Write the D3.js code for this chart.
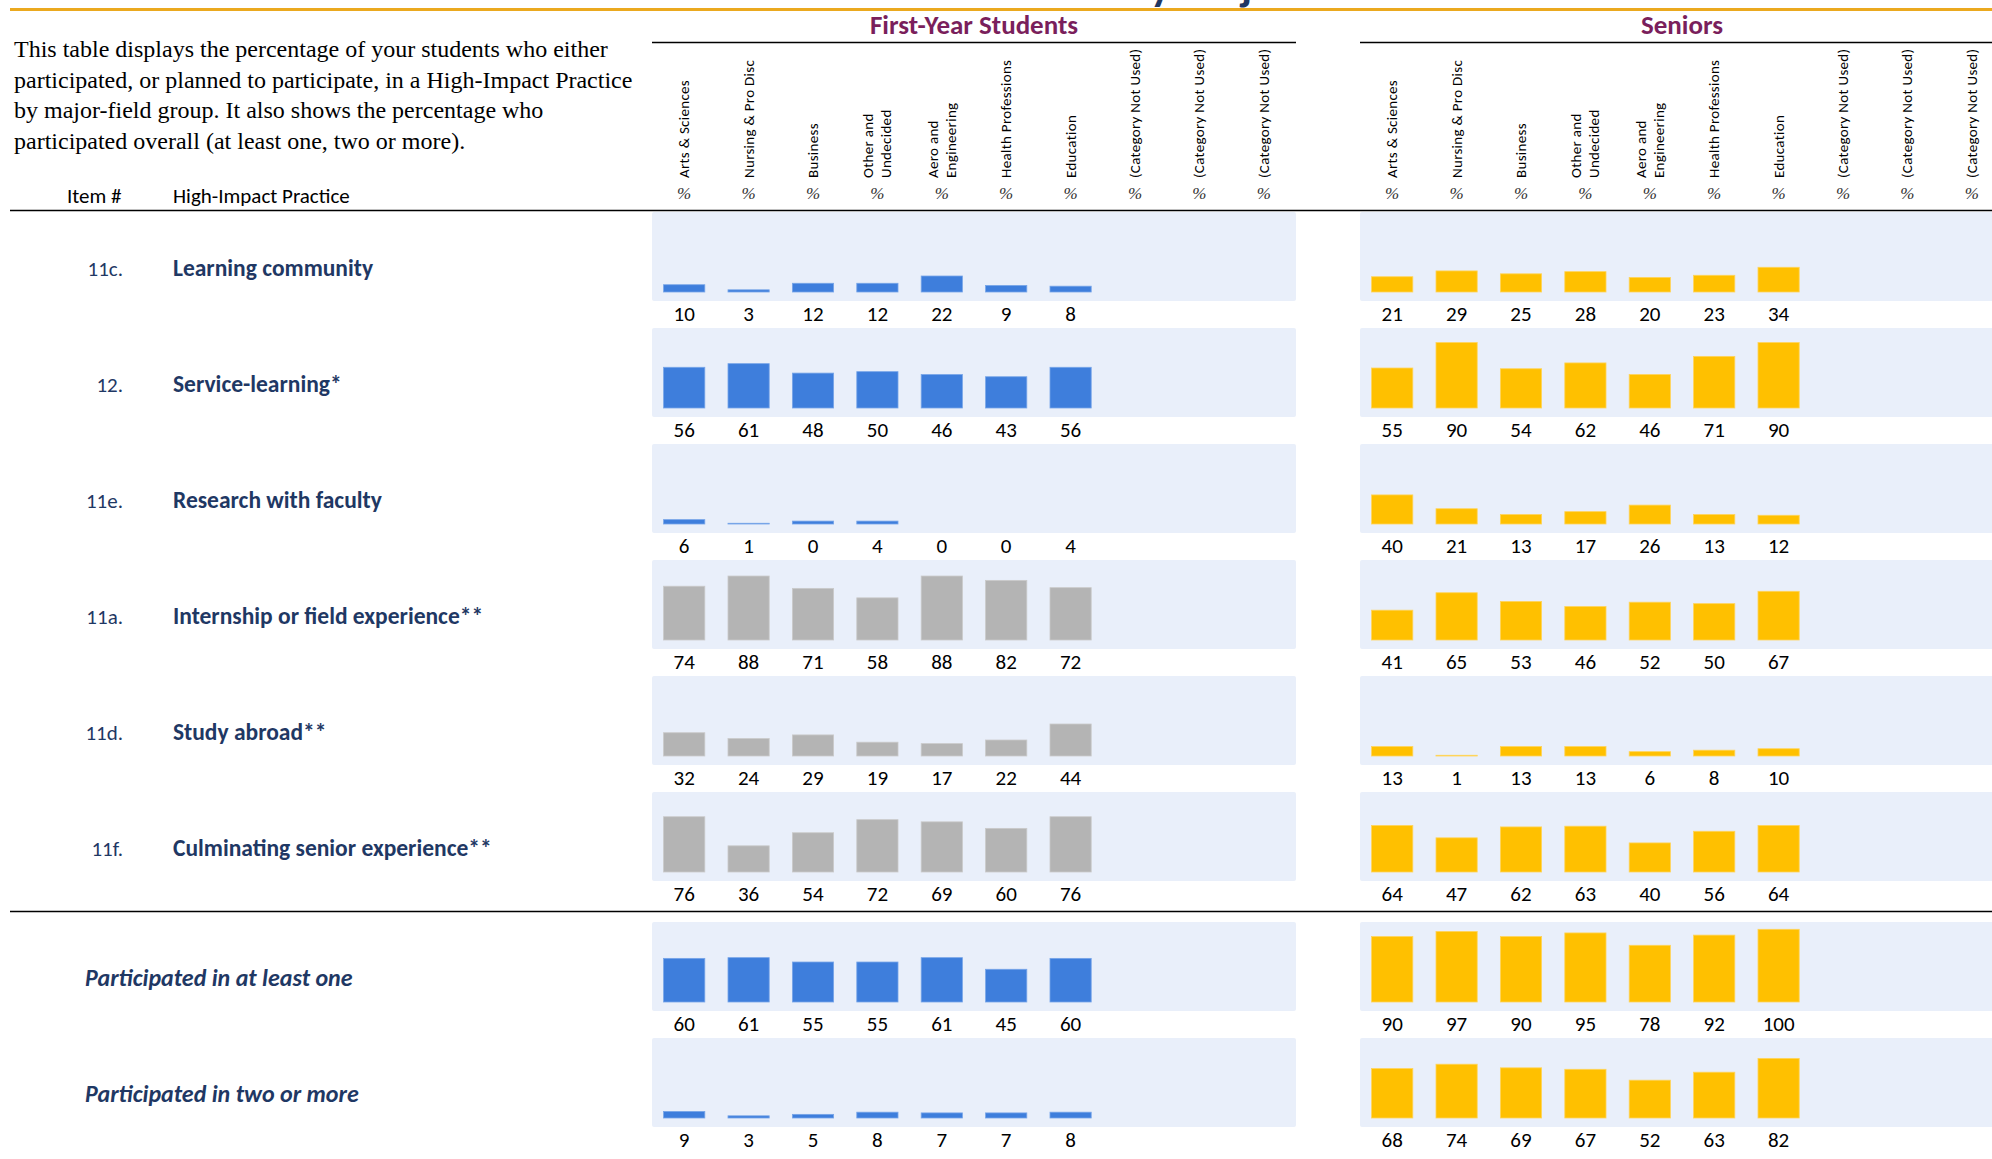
<!DOCTYPE html>
<html>
  <head>
    <meta http-equiv="Content-type" content="text/html; charset=utf-8">
    <title>High-Impact Practices by Major Field</title>
    <script src="https://cdn.jsdelivr.net/npm/d3@7"></script>
    <style>
      body { margin: 0; background: #fff; }
      .sans { font-family: Calibri, Carlito, Lato, "Open Sans", sans-serif; }
      .serif { font-family: "Times New Roman", "Liberation Serif", serif; }
    </style>
  </head>
  <body>
    <div id="chart"></div>
    <script type="text/javascript">
      // column headers (major-field groups), split into header lines
      var categories = [
        ["Arts & Sciences"], ["Nursing & Pro Disc"], ["Business"], ["Other and", "Undecided"],
        ["Aero and", "Engineering"], ["Health Professions"], ["Education"],
        ["(Category Not Used)"], ["(Category Not Used)"], ["(Category Not Used)"]
      ];
      var groups = ["First-Year Students", "Seniors"];

      var itemNumbers = ["11c.", "12.", "11e.", "11a.", "11d.", "11f.", "", ""];
      var practices = [
        "Learning community", "Service-learning*", "Research with faculty",
        "Internship or field experience**", "Study abroad**", "Culminating senior experience**",
        "Participated in at least one", "Participated in two or more"
      ];

      // percentages, one row per practice, one value per used category
      var firstYear = [
        [10, 3, 12, 12, 22, 9, 8],
        [56, 61, 48, 50, 46, 43, 56],
        [6, 1, 0, 4, 0, 0, 4],
        [74, 88, 71, 58, 88, 82, 72],
        [32, 24, 29, 19, 17, 22, 44],
        [76, 36, 54, 72, 69, 60, 76],
        [60, 61, 55, 55, 61, 45, 60],
        [9, 3, 5, 8, 7, 7, 8]
      ];
      var seniors = [
        [21, 29, 25, 28, 20, 23, 34],
        [55, 90, 54, 62, 46, 71, 90],
        [40, 21, 13, 17, 26, 13, 12],
        [41, 65, 53, 46, 52, 50, 67],
        [13, 1, 13, 13, 6, 8, 10],
        [64, 47, 62, 63, 40, 56, 64],
        [90, 97, 90, 95, 78, 92, 100],
        [68, 74, 69, 67, 52, 63, 82]
      ];
      // first-year rows shown in gray ("planned" items)
      var plannedRows = [false, false, false, true, true, true, false, false];

      var width = 1992, height = 1159;
      var navy = "#1F3864", maroon = "#7A1F5C";

      var svg = d3.select("#chart").append("svg")
        .attr("width", width)
        .attr("height", height);

      // page title, cut off by the top edge as in the source page
      svg.append("text")
        .attr("class", "sans")
        .attr("x", 1213).attr("y", 0)
        .attr("text-anchor", "middle")
        .style("font-size", "44px").style("font-weight", "bold")
        .style("fill", navy)
        .text("HIPs by Major Field");

      svg.append("rect")
        .attr("x", 10).attr("y", 8).attr("width", width - 10).attr("height", 3)
        .style("fill", "#EBA91F");

      // description
      var desc = [
        "This table displays the percentage of your students who either",
        "participated, or planned to participate, in a High-Impact Practice",
        "by major-field group. It also shows the percentage who",
        "participated overall (at least one, two or more)."
      ];
      svg.append("g").selectAll("text")
        .data(desc)
        .enter().append("text")
        .attr("class", "serif")
        .attr("x", 14)
        .attr("y", function(d, i) { return 57 + i * 30.5; })
        .style("font-size", "24px")
        .style("fill", "#000")
        .text(function(d) { return d; });

      svg.append("text").attr("class", "sans")
        .attr("x", 67).attr("y", 203)
        .style("font-size", "21px").text("Item #");
      svg.append("text").attr("class", "sans")
        .attr("x", 173).attr("y", 203)
        .style("font-size", "21px").text("High-Impact Practice");

      // rules
      svg.append("line")
        .attr("x1", 10).attr("x2", width).attr("y1", 210.5).attr("y2", 210.5)
        .style("stroke", "#000").style("stroke-width", 1.5);
      svg.append("line")
        .attr("x1", 10).attr("x2", width).attr("y1", 911.5).attr("y2", 911.5)
        .style("stroke", "#000").style("stroke-width", 1.5);

      var rowTop = function(i) { return i < 6 ? 212 + i * 116 : 922 + (i - 6) * 116; };
      var panelH = 89;

      var y = d3.scaleLinear().domain([0, 100]).range([0, 72.7]);

      // row labels
      var labels = svg.append("g");
      practices.forEach(function(p, i) {
        var top = rowTop(i);
        if (itemNumbers[i]) {
          labels.append("text").attr("class", "sans")
            .attr("x", 123).attr("y", top + 64)
            .attr("text-anchor", "end")
            .style("font-size", "21px").style("fill", navy)
            .text(itemNumbers[i]);
          labels.append("text").attr("class", "sans")
            .attr("x", 173).attr("y", top + 64)
            .style("font-size", "23.5px").style("font-weight", "bold").style("fill", navy)
            .text(p);
        } else {
          labels.append("text").attr("class", "sans")
            .attr("x", 85).attr("y", top + 64)
            .style("font-size", "24px").style("font-weight", "bold")
            .style("font-style", "italic").style("fill", navy)
            .text(p);
        }
      });

      var groupX = [652, 1360];
      var groupData = [firstYear, seniors];

      groups.forEach(function(gName, gi) {
        var x0 = groupX[gi];
        var x = d3.scaleBand()
          .domain(d3.range(categories.length))
          .range([x0, x0 + 644])
          .paddingInner(0.36)
          .paddingOuter(0.18);
        var cx = function(i) { return x(i) + x.bandwidth() / 2; };

        var g = svg.append("g");

        g.append("text").attr("class", "sans")
          .attr("x", x0 + 322).attr("y", 34)
          .attr("text-anchor", "middle")
          .style("font-size", "27px").style("font-weight", "bold").style("fill", maroon)
          .text(gName);
        g.append("line")
          .attr("x1", x0).attr("x2", Math.min(x0 + 644, width))
          .attr("y1", 42.5).attr("y2", 42.5)
          .style("stroke", "#000").style("stroke-width", 1.5);

        // rotated column headers
        var head = g.selectAll(".head")
          .data(categories)
          .enter().append("g")
          .attr("class", "head")
          .attr("transform", function(d, i) { return "translate(" + cx(i) + ",178) rotate(-90)"; });
        head.selectAll("text")
          .data(function(d) { return d; })
          .enter().append("text")
          .attr("class", "sans")
          .attr("x", 0)
          .attr("y", function(d, j, nodes) {
            var n = nodes.length;
            return 5 + (j - (n - 1) / 2) * 18;
          })
          .style("font-size", "15px")
          .style("letter-spacing", "0.3px")
          .text(function(d) { return d; });

        g.selectAll(".pct")
          .data(categories)
          .enter().append("text")
          .attr("class", "serif")
          .attr("x", function(d, i) { return cx(i); })
          .attr("y", 199)
          .attr("text-anchor", "middle")
          .style("font-size", "17px").style("font-style", "italic").style("fill", "#333")
          .text("%");

        // rows: panel, bars, values
        groupData[gi].forEach(function(vals, r) {
          var top = rowTop(r);
          var base = top + 80;
          var fill = gi === 1 ? "#FFC000" : (plannedRows[r] ? "#B4B4B4" : "#3E7EDC");
          var edge = gi === 1 ? "#FFD45A" : (plannedRows[r] ? "#CACACA" : "#77A5E8");

          g.append("rect")
            .attr("x", x0).attr("y", top)
            .attr("width", 644).attr("height", panelH)
            .attr("rx", 2)
            .style("fill", "#E9EFFA");

          g.selectAll(".bar" + r)
            .data(vals)
            .enter().append("rect")
            .filter(function(d) { return d > 0; })
            .attr("x", function(d, i) { return x(i); })
            .attr("y", function(d) { return base - y(d); })
            .attr("width", x.bandwidth())
            .attr("height", function(d) { return y(d); })
            .style("fill", fill)
            .style("stroke", edge)
            .style("stroke-width", 0.8);

          g.selectAll(".val" + r)
            .data(vals)
            .enter().append("text")
            .attr("class", "sans")
            .attr("x", function(d, i) { return cx(i); })
            .attr("y", top + panelH + 20)
            .attr("text-anchor", "middle")
            .style("font-size", "21px").style("fill", "#000")
            .text(function(d) { return d; });
        });
      });
    </script>
  </body>
</html>
